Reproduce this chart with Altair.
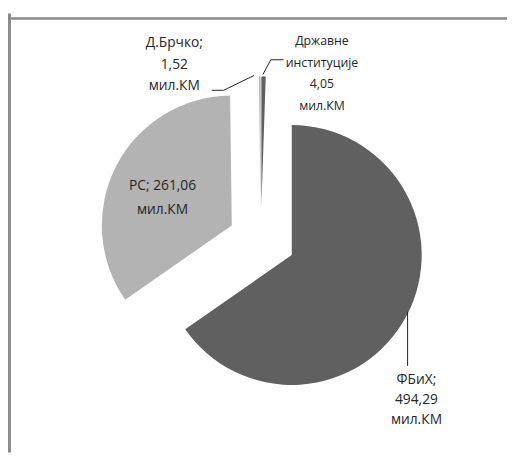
import altair as alt
import pandas as pd

# data
regions = ["ФБиХ", "РС", "Д.Брчко", "Државне институције"]
values = [494.29, 261.06, 1.52, 4.05]
order = [0, 1, 2, 3]
shade = ["dark", "light", "light", "dark"]

W, H = 507, 448
CX, CY = 258, 232      # pie centre (chart coords)
R = 132                # pie radius
D = 34                 # explosion distance

df = pd.DataFrame({"region": regions, "value": values, "idx": order, "shade": shade})

base = alt.Chart(df).transform_joinaggregate(
    total="sum(value)"
).transform_window(
    c1="sum(value)", sort=[alt.SortField("idx")], frame=[None, 0]
).transform_calculate(
    c0="datum.c1 - datum.value",
    mid="(datum.c1 - datum.value/2)/datum.total*2*PI",
).transform_calculate(
    cx=f"{CX} + {D}*sin(datum.mid)",
    cy=f"{CY} - {D}*cos(datum.mid)",
)

pie = base.mark_arc(radius=R).encode(
    theta=alt.Theta("c0:Q", stack=None),
    theta2="c1:Q",
    x=alt.X("cx:Q", scale=None),
    y=alt.Y("cy:Q", scale=None),
    color=alt.Color("shade:N", scale=alt.Scale(domain=["dark", "light"], range=["#606060", "#b3b3b3"]), legend=None),
)

# labels (annotation positions, chart coords = page - 8)
lab_text = ["Д.Брчко;", "1,52", "мил.КМ",
            "Државне", "институције", "4,05", "мил.КМ",
            "РС; 261,06", "мил.КМ",
            "ФБиХ;", "494,29", "мил.КМ"]
lab_x = [169, 169, 169,
         319, 319, 319, 319,
         157, 157,
         415, 415, 415]
lab_y = [32, 54, 76,
         30, 52, 74, 96,
         177, 202,
         374, 395, 415]
lab_size = [14, 14, 14,
            12.5, 12.5, 12.5, 12.5,
            14, 14,
            14, 14, 14]
labels = pd.DataFrame({"t": lab_text, "x": lab_x, "y": lab_y, "s": lab_size})

text = alt.Chart(labels).mark_text(font="Open Sans", color="#262626", baseline="middle", align="center").encode(
    x=alt.X("x:Q", scale=None),
    y=alt.Y("y:Q", scale=None),
    text="t:N",
    size=alt.Size("s:Q", scale=None, legend=None),
)

# leader lines
ll_x = [207, 219, 280, 267, 406]
ll_y = [80, 80, 49, 49, 305]
ll_x2 = [219, 250, 267, 259, 406]
ll_y2 = [80, 65, 49, 64, 360]
leaders = pd.DataFrame({"x": ll_x, "y": ll_y, "x2": ll_x2, "y2": ll_y2})
lines = alt.Chart(leaders).mark_rule(color="#222222", strokeWidth=1).encode(
    x=alt.X("x:Q", scale=None), y=alt.Y("y:Q", scale=None),
    x2="x2:Q", y2="y2:Q",
)

frame_top = alt.Chart(pd.DataFrame({"a": [0]})).mark_rule(color="#8a8a8a", strokeWidth=2.5).encode(
    x=alt.value(0), x2=alt.value(W), y=alt.value(7))
frame_left = alt.Chart(pd.DataFrame({"a": [0]})).mark_rule(color="#8a8a8a", strokeWidth=3).encode(
    x=alt.value(1.5), y=alt.value(2), y2=alt.value(H))

chart = alt.layer(pie, lines, text, frame_top, frame_left).properties(
    width=W, height=H, autosize=alt.AutoSizeParams(type="none"), padding=0
).configure_view(stroke=None)

chart.save("out.html", embed_options={"renderer": "svg", "actions": False})
